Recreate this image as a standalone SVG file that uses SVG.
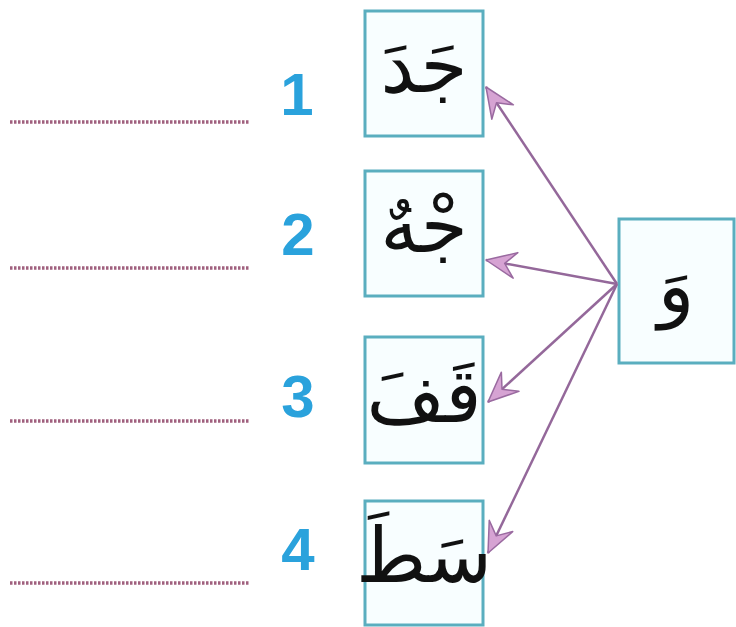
<svg xmlns="http://www.w3.org/2000/svg" width="736" height="627" viewBox="0 0 736 627">
<style>
.box{fill:#f8feff;stroke:#5aaebf;stroke-width:3}
.ar{font-family:"DejaVu Sans",sans-serif;font-size:76px;fill:#111;text-anchor:middle}
.num{font-family:"Liberation Sans",Arial,sans-serif;font-weight:bold;font-size:60px;fill:#2aa2dc;text-anchor:middle}
.dots{stroke:#a0607e;stroke-width:3.5;stroke-dasharray:2.5 1.5}
.conn{stroke:#94689a;stroke-width:2.5;fill:none;marker-end:url(#ah)}
</style>
<defs>
<marker id="ah" markerUnits="userSpaceOnUse" markerWidth="44" markerHeight="44" refX="0" refY="0" viewBox="-34 -17 44 34" orient="auto">
<path d="M0,0 L-30,-13 L-19,0 L-30,13 Z" fill="#d6a3d3" stroke="#9a6aa0" stroke-width="1.5" stroke-linejoin="round"/>
</marker>
</defs>
<rect width="736" height="627" fill="#ffffff"/>
<g id="lines">
<line class="dots" x1="10" y1="122" x2="250" y2="122"/>
<line class="dots" x1="10" y1="268" x2="250" y2="268"/>
<line class="dots" x1="10" y1="421" x2="250" y2="421"/>
<line class="dots" x1="10" y1="583" x2="250" y2="583"/>
</g>
<g id="n1"><text class="num" x="297" y="115">1</text></g>
<g id="n2"><text class="num" x="298" y="255">2</text></g>
<g id="n3"><text class="num" x="298" y="417">3</text></g>
<g id="n4"><text class="num" x="298" y="570">4</text></g>
<g id="box1"><rect class="box" x="365" y="11" width="118" height="125"/><text class="ar" x="424" y="92">جَدَ</text></g>
<g id="box2"><rect class="box" x="365" y="171" width="118" height="125"/><text class="ar" x="424" y="252">جْهٌ</text></g>
<g id="box3"><rect class="box" x="365" y="337" width="118" height="126"/><text class="ar" x="424" y="422">قَفَ</text></g>
<g id="box4"><rect class="box" x="365" y="501" width="118" height="124"/><text class="ar" x="424" y="582">سَطَ</text></g>
<g id="boxR"><rect class="box" x="619" y="219" width="115" height="144"/><text class="ar" x="676" y="312">وَ</text></g>
<g id="connectors">
<line class="conn" x1="617" y1="284" x2="486" y2="87"/>
<line class="conn" x1="617" y1="284" x2="486" y2="260"/>
<line class="conn" x1="617" y1="284" x2="488" y2="402"/>
<line class="conn" x1="617" y1="284" x2="488" y2="553"/>
</g>
</svg>
